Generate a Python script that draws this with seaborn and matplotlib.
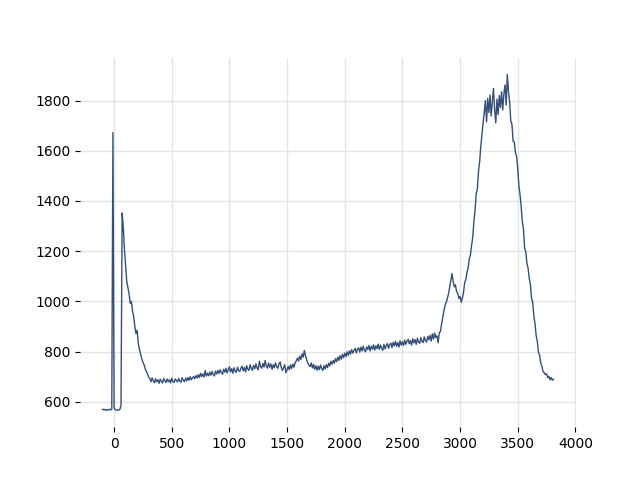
import numpy as np
import pandas as pd
import seaborn as sns
import matplotlib
matplotlib.use("Agg")
import matplotlib.pyplot as plt

# channel grid, step 10, from -100 to 3810
channel = np.arange(-100, 3820, 10)

counts = [
    571, 568, 570, 566, 569, 567, 571, 568, 570, 1672,      # -100..-10
    576, 569, 566, 568, 567, 570, 585, 1352, 1295, 1205,    # 0..90
    1140, 1080, 1055, 1030, 992, 1000, 962, 940, 900, 872,  # 100..
    885, 832, 808, 790, 772, 758, 748, 732, 720, 712,       # 200..
    698, 694, 680, 695, 684, 676, 692, 680, 688, 674,       # 300..
    690, 682, 675, 693, 684, 677, 691, 680, 688, 676,       # 400..
    694, 681, 677, 691, 685, 679, 693, 683, 678, 696,       # 500..
    686, 680, 694, 684, 697, 686, 700, 688, 695, 701,       # 600..
    692, 705, 695, 708, 697, 714, 701, 711, 699, 725,       # 700..
    703, 714, 704, 718, 706, 721, 709, 703, 723, 711,       # 800..
    725, 713, 728, 716, 710, 730, 718, 734, 715, 727,       # 900..
    740, 719, 732, 714, 736, 723, 717, 738, 725, 721,       # 1000..
    734, 742, 723, 737, 719, 744, 730, 725, 748, 733,       # 1100..
    726, 745, 732, 751, 735, 728, 762, 741, 734, 753,       # 1200..
    739, 765, 743, 734, 755, 738, 751, 730, 748, 736,       # 1300..
    755, 740, 733, 752, 759, 737, 725, 736, 748, 716,       # 1400..
    729, 741, 728, 747, 733, 751, 738, 755, 763, 774,       # 1500..
    763, 782, 769, 791, 778, 805, 783, 768, 755, 746,       # 1600..
    741, 755, 735, 749, 730, 744, 726, 742, 728, 747,       # 1700..
    733, 725, 744, 731, 748, 736, 754, 743, 761, 750,       # 1800..
    765, 754, 772, 760, 778, 765, 784, 770, 789, 776,       # 1900..
    794, 780, 799, 785, 803, 790, 808, 794, 805, 813,       # 2000..
    795, 810, 815, 798, 818, 803, 822, 806, 800, 819,       # 2100..
    808, 825, 803, 821, 810, 827, 806, 823, 812, 830,       # 2200..
    809, 826, 814, 805, 829, 811, 824, 832, 813, 828,       # 2300..
    834, 816, 837, 823, 841, 821, 836, 818, 843, 826,       # 2400..
    839, 824, 846, 829, 842, 849, 831, 844, 826, 851,       # 2500..
    835, 848, 829, 853, 838, 833, 856, 841, 836, 859,       # 2600..
    844, 838, 861, 847, 865, 842, 871, 850, 874, 856,       # 2700..
    863, 835, 875, 880, 911, 935, 962, 984, 996, 1012,      # 2800..
    1030, 1057, 1085, 1111, 1080, 1058, 1066, 1040, 1031, 1012,  # 2900..
    1020, 997, 1012, 1036, 1075, 1086, 1116, 1132, 1170, 1185,   # 3000..
    1222, 1255, 1318, 1362, 1428, 1448, 1518, 1556, 1618, 1665,  # 3100..
    1712, 1752, 1800, 1715, 1808, 1752, 1822, 1738, 1796, 1848,  # 3200..
    1762, 1711, 1806, 1744, 1820, 1772, 1835, 1762, 1826, 1862,  # 3300..
    1782, 1904, 1834, 1795, 1718, 1706, 1638, 1636, 1592, 1578,  # 3400..
    1530, 1462, 1425, 1378, 1318, 1288, 1212, 1198, 1152, 1132,  # 3500..
    1092, 1068, 1012, 996, 942, 912, 864, 841, 798, 785,         # 3600..
    755, 741, 720, 716, 708, 712, 696, 702, 688, 697,            # 3700..
    686, 690,                                                    # 3800..
]

df = pd.DataFrame({"channel": channel, "counts": counts})

fig, ax = plt.subplots(figsize=(6.4, 4.8), dpi=100)
sns.lineplot(data=df, x="channel", y="counts", color="#345078", linewidth=1, ax=ax)
ax.grid(True, color="#e5e5e5", linewidth=1)
ax.set_axisbelow(True)
for s in ax.spines.values():
    s.set_visible(False)
ax.set_xlabel("")
ax.set_ylabel("")
plt.savefig("out.png")
